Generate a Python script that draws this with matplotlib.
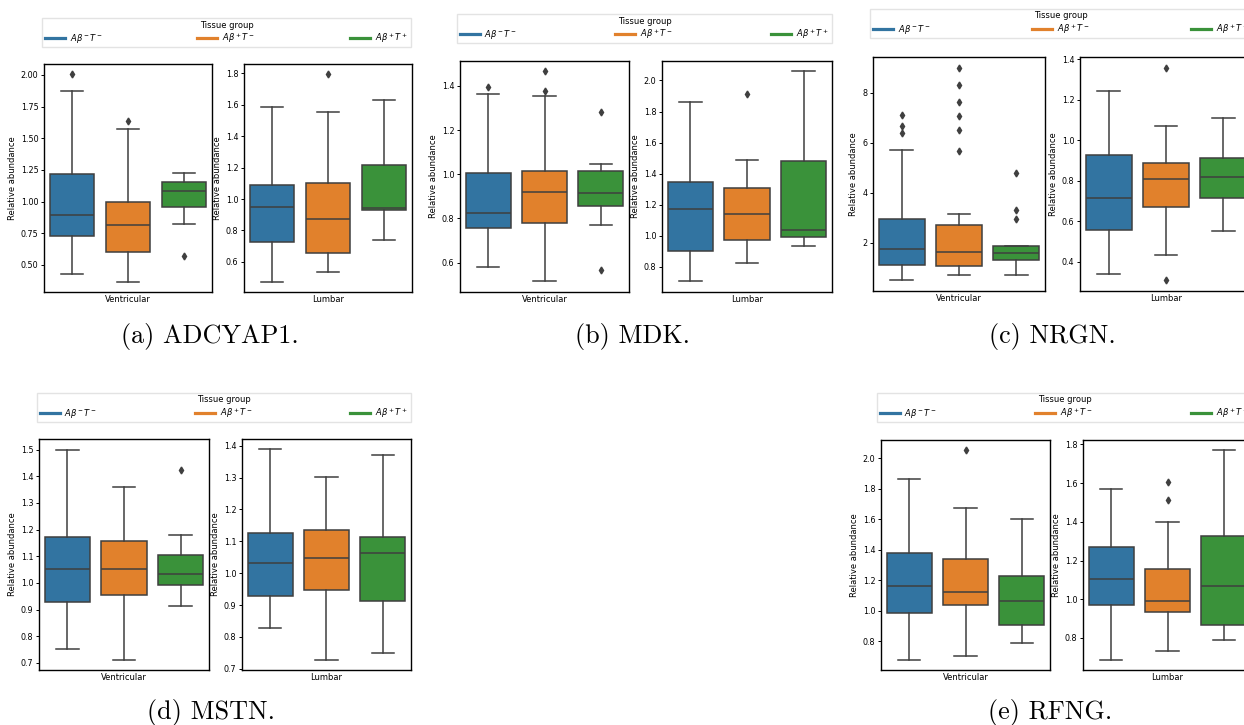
import matplotlib
matplotlib.use("Agg")
import matplotlib.pyplot as plt
from matplotlib.lines import Line2D

W, H = 1244, 725

groups = [r"$A\beta^-T^-$", r"$A\beta^+T^-$", r"$A\beta^+T^+$"]
regions = ["Ventricular", "Lumbar"]
colors = ["#3274a1", "#e1812c", "#3a923a"]
line_gray = "#3f3f3f"

# five-number summaries per group: whislo, q1, median, q3, whishi
adcyap1_vent = [[0.429, 0.732, 0.896, 1.219, 1.871],
                [0.368, 0.603, 0.814, 0.997, 1.570],
                [0.825, 0.954, 1.086, 1.155, 1.224]]
adcyap1_vent_out = [[2.005], [1.636], [0.571]]
adcyap1_lumb = [[0.475, 0.725, 0.948, 1.090, 1.584],
                [0.539, 0.660, 0.871, 1.100, 1.554],
                [0.742, 0.931, 0.946, 1.219, 1.631]]
adcyap1_lumb_out = [[], [1.792], []]

mdk_vent = [[0.580, 0.758, 0.823, 1.007, 1.365],
            [0.517, 0.778, 0.922, 1.014, 1.353],
            [0.769, 0.855, 0.916, 1.014, 1.046]]
mdk_vent_out = [[1.395], [1.465, 1.376], [1.282, 0.565]]
mdk_lumb = [[0.708, 0.899, 1.174, 1.345, 1.860],
            [0.822, 0.974, 1.137, 1.309, 1.485],
            [0.933, 0.994, 1.039, 1.480, 2.058]]
mdk_lumb_out = [[], [1.916], []]

nrgn_vent = [[0.50, 1.10, 1.76, 2.96, 5.69],
             [0.70, 1.07, 1.64, 2.73, 3.14],
             [0.72, 1.30, 1.59, 1.86, 1.88]]
nrgn_vent_out = [[7.10, 6.66, 6.39], [9.00, 8.31, 7.62, 7.07, 6.51, 5.68], [4.80, 3.31, 2.94]]
nrgn_lumb = [[0.341, 0.556, 0.716, 0.926, 1.244],
             [0.435, 0.671, 0.811, 0.890, 1.072],
             [0.554, 0.717, 0.821, 0.912, 1.109]]
nrgn_lumb_out = [[], [1.359, 0.308], []]

mstn_vent = [[0.754, 0.927, 1.053, 1.172, 1.500],
             [0.713, 0.953, 1.051, 1.157, 1.361],
             [0.914, 0.994, 1.033, 1.103, 1.181]]
mstn_vent_out = [[], [], [1.424]]
mstn_lumb = [[0.827, 0.927, 1.033, 1.127, 1.388],
             [0.729, 0.946, 1.048, 1.134, 1.301],
             [0.748, 0.912, 1.064, 1.114, 1.370]]
mstn_lumb_out = [[], [], []]

rfng_vent = [[0.680, 0.988, 1.162, 1.376, 1.865],
             [0.704, 1.038, 1.121, 1.337, 1.675],
             [0.791, 0.909, 1.062, 1.225, 1.599]]
rfng_vent_out = [[], [2.052], []]
rfng_lumb = [[0.688, 0.968, 1.102, 1.271, 1.571],
             [0.730, 0.932, 0.989, 1.157, 1.398],
             [0.788, 0.865, 1.066, 1.329, 1.769]]
rfng_lumb_out = [[], [1.606, 1.511], []]

adcyap1_ticks = [[0.50, 0.75, 1.00, 1.25, 1.50, 1.75, 2.00], [0.6, 0.8, 1.0, 1.2, 1.4, 1.6, 1.8]]
mdk_ticks = [[0.6, 0.8, 1.0, 1.2, 1.4], [0.8, 1.0, 1.2, 1.4, 1.6, 1.8, 2.0]]
nrgn_ticks = [[2, 4, 6, 8], [0.4, 0.6, 0.8, 1.0, 1.2, 1.4]]
mstn_ticks = [[0.7, 0.8, 0.9, 1.0, 1.1, 1.2, 1.3, 1.4, 1.5], [0.7, 0.8, 0.9, 1.0, 1.1, 1.2, 1.3, 1.4]]
rfng_ticks = [[0.8, 1.0, 1.2, 1.4, 1.6, 1.8, 2.0], [0.8, 1.0, 1.2, 1.4, 1.6, 1.8]]

captions = ["(a) ADCYAP1.", "(b) MDK.", "(c) NRGN.", "(d) MSTN.", "(e) RFNG."]

panels = [
    (adcyap1_vent, adcyap1_vent_out, adcyap1_lumb, adcyap1_lumb_out, adcyap1_ticks),
    (mdk_vent, mdk_vent_out, mdk_lumb, mdk_lumb_out, mdk_ticks),
    (nrgn_vent, nrgn_vent_out, nrgn_lumb, nrgn_lumb_out, nrgn_ticks),
    (mstn_vent, mstn_vent_out, mstn_lumb, mstn_lumb_out, mstn_ticks),
    (rfng_vent, rfng_vent_out, rfng_lumb, rfng_lumb_out, rfng_ticks),
]

# layout in pixels: left axes x0,x1 ; right axes x0,x1 ; axes top, bottom ; legend x0,x1,top ; caption x,y
layout = [
    ((44, 212), (244, 412), 64, 292, (42, 411, 18), (210, 336)),
    ((460, 629), (662, 832), 61, 291.5, (457, 832, 14), (632, 336)),
    ((873, 1045), (1080, 1252), 57, 291, (870, 1252, 9), (1052, 336)),
    ((39, 209), (242, 411), 439, 670, (37, 411, 393), (211, 713)),
    ((881, 1050), (1083, 1252), 440, 670, (877, 1252, 393), (1050, 713)),
]

fig = plt.figure(figsize=(W / 100, H / 100), dpi=100)


def px_axes(x0, x1, top, bottom):
    return fig.add_axes([x0 / W, 1 - bottom / H, (x1 - x0) / W, (bottom - top) / H])


def draw_box(ax, summ, outs, ticks, region):
    stats = []
    for s, o in zip(summ, outs):
        stats.append(dict(whislo=s[0], q1=s[1], med=s[2], q3=s[3], whishi=s[4], fliers=o))
    bp = ax.bxp(stats, positions=[0, 1, 2], widths=0.8, patch_artist=True,
                boxprops=dict(edgecolor=line_gray, linewidth=1.1),
                medianprops=dict(color=line_gray, linewidth=1.1),
                whiskerprops=dict(color=line_gray, linewidth=1.1),
                capprops=dict(color=line_gray, linewidth=1.1),
                flierprops=dict(marker="d", markerfacecolor=line_gray, markeredgecolor=line_gray,
                                markersize=3.5, linestyle="none"))
    for patch, c in zip(bp["boxes"], colors):
        patch.set_facecolor(c)
    ax.set_xlim(-0.5, 2.5)
    ax.set_xticks([1])
    ax.set_xticklabels([region], fontsize=6)
    ax.tick_params(axis="x", length=0, pad=2.5)
    ax.set_yticks(ticks)
    ax.tick_params(axis="y", labelsize=5.8, length=2.5, width=0.7, pad=1.5)
    ax.set_ylabel("Relative abundance", fontsize=6, labelpad=3)
    for sp in ax.spines.values():
        sp.set_linewidth(1.0)


handles = [Line2D([0], [0], color=c, lw=2.3) for c in colors]

for (vent, vent_out, lumb, lumb_out, ticks), lay, cap in zip(panels, layout, captions):
    (lx0, lx1), (rx0, rx1), top, bottom, (gx0, gx1, gtop), (cx, cy) = lay
    axl = px_axes(lx0, lx1, top, bottom)
    draw_box(axl, vent, vent_out, ticks[0], regions[0])
    axr = px_axes(rx0, rx1, top, bottom)
    draw_box(axr, lumb, lumb_out, ticks[1], regions[1])
    fig.legend(handles, groups, loc="upper left", mode="expand", ncol=3,
               bbox_to_anchor=(gx0 / W, 1 - gtop / H - 0.1, (gx1 - gx0) / W, 0.1),
               bbox_transform=fig.transFigure, borderaxespad=0,
               title="Tissue group", title_fontsize=6, fontsize=6,
               handlelength=2.4, handletextpad=0.6, borderpad=0.3, labelspacing=0.2,
               frameon=True, edgecolor="#dddddd", fancybox=False)
    fig.text(cx / W, 1 - cy / H, cap, family="cmr10", fontsize=18.8, ha="center", va="center")

fig.savefig("out.png", dpi=100)
